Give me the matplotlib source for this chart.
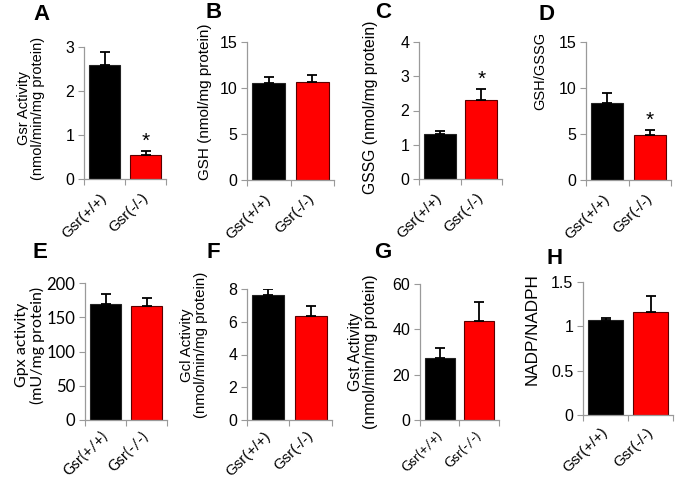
import matplotlib
matplotlib.use("Agg")
import matplotlib.pyplot as plt
import numpy as np

groups = ["Gsr(+/+)", "Gsr(-/-)"]

gsr_activity = [2.58, 0.54]
gsr_activity_err = [0.30, 0.09]
gsh = [10.5, 10.6]
gsh_err = [0.7, 0.8]
gssg = [1.31, 2.31]
gssg_err = [0.10, 0.31]
gsh_gssg = [8.4, 4.93]
gsh_gssg_err = [1.06, 0.47]
gpx = [169, 167]
gpx_err = [15, 11]
gcl = [7.61, 6.34]
gcl_err = [0.37, 0.61]
gst = [27.3, 43.7]
gst_err = [4.6, 8.2]
nadp_ratio = [1.077, 1.167]
nadp_ratio_err = [0.015, 0.18]

panel_letters = ["A", "B", "C", "D", "E", "F", "G", "H"]
ylabels = ["Gsr Activity\n(nmol/min/mg protein)", "GSH (nmol/mg protein)",
           "GSSG (nmol/mg protein)", "GSH/GSSG",
           "Gpx activity\n(mU/mg protein)", "Gcl Activity\n(nmol/min/mg protein)",
           "Gst Activity\n(nmol/min/mg protein)", "NADP/NADPH"]
yticks = [[0, 1, 2, 3], [0, 5, 10, 15], [0, 1, 2, 3, 4], [0, 5, 10, 15],
          [0, 50, 100, 150, 200], [0, 2, 4, 6, 8], [0, 20, 40, 60], [0, 0.5, 1, 1.5]]
yticklabels = [["0", "1", "2", "3"], ["0", "5", "10", "15"], ["0", "1", "2", "3", "4"],
               ["0", "5", "10", "15"], ["0", "50", "100", "150", "200"],
               ["0", "2", "4", "6", "8"], ["0", "20", "40", "60"], ["0", "0.5", "1", "1.5"]]
significant = [True, False, True, True, False, False, False, False]

values = [gsr_activity, gsh, gssg, gsh_gssg, gpx, gcl, gst, nadp_ratio]
errors = [gsr_activity_err, gsh_err, gssg_err, gsh_gssg_err, gpx_err, gcl_err, gst_err, nadp_ratio_err]

W, H = 676, 482
plt.rcParams['font.family'] = ['Liberation Sans', 'DejaVu Sans']
fig = plt.figure(figsize=(W / 100, H / 100), dpi=100)

ARIAL = ['Liberation Sans', 'DejaVu Sans']
CALIB = ['Lato', 'DejaVu Sans']

# layout (pixel boxes: left, right, top, bottom)
boxes = [(84, 166, 47, 179), (247, 334, 42, 180), (419, 502, 42, 179), (586, 671, 42, 180),
         (85, 167, 283, 420), (247, 332, 289, 420), (420, 499, 284, 420), (583, 673, 282, 415)]
letter_pos = [(41, 14), (214, 13), (383, 13), (546, 14), (40, 253), (213, 253), (383, 253), (555, 259)]
ylabel_pos = [(31, 108), (205, 102), (370, 107), (540, 71), (30, 345), (194, 345), (363, 352), (532, 329)]
ylabel_size = [10.5, 11, 11.3, 10.5, 11.5, 10.8, 11.4, 12.3]
ylabel_fam = [ARIAL, ARIAL, ARIAL, ARIAL, CALIB, ARIAL, ARIAL, ARIAL]
tick_size = [11.5, 11.5, 11.5, 11.5, 12, 11.5, 11.5, 11.5]
tick_fam = [ARIAL, ARIAL, ARIAL, ARIAL, CALIB, ARIAL, ARIAL, ARIAL]
xt_size = [11, 11, 11, 11, 11, 11, 10, 11]
xt_fam = [ARIAL, ARIAL, ARIAL, ARIAL, CALIB, ARIAL, CALIB, ARIAL]
xt_pad = [12, 12, 12, 12, 10, 10, 10, 11]

spine_c = '#9a9a9a'
colors = ['black', '#ff0000']
edges = ['#222222', '#5a0000']

for i in range(8):
    l, r, t, b = boxes[i]
    ax = fig.add_axes([l / W, 1 - b / H, (r - l) / W, (b - t) / H])
    x = np.arange(len(groups))
    ax.bar(x, values[i], width=0.76, color=colors, edgecolor=edges, linewidth=0.8, zorder=2)
    ax.errorbar(x, values[i], yerr=[[0, 0], errors[i]], fmt='none', ecolor='black',
                elinewidth=1.3, capsize=3.5, capthick=1.3, zorder=3)
    ax.set_xlim(-0.5, 1.5)
    ax.set_ylim(yticks[i][0], yticks[i][-1])
    ax.set_yticks(yticks[i])
    ax.set_yticklabels(yticklabels[i], fontsize=tick_size[i], family=tick_fam[i])
    ax.set_xticks(x)
    ax.set_xticklabels(groups, rotation=45, ha='right', va='center', rotation_mode='anchor',
                       fontsize=xt_size[i], family=xt_fam[i])
    ax.set_xticks([-0.5, 0.5, 1.5], minor=True)
    ax.tick_params(axis='x', which='major', length=0, pad=xt_pad[i])
    ax.tick_params(axis='x', which='minor', length=4, color=spine_c, width=0.8, direction='out')
    ax.tick_params(axis='y', length=4, color=spine_c, width=0.8, direction='out', pad=3)
    for s in ['top', 'right']:
        ax.spines[s].set_visible(False)
    for s in ['left', 'bottom']:
        ax.spines[s].set_color(spine_c)
        ax.spines[s].set_linewidth(0.9)
    ax.spines['left'].set_zorder(1)
    if significant[i]:
        ax.annotate('*', xy=(1, values[i][1] + errors[i][1]), xytext=(0, 0),
                    textcoords='offset points', ha='center', va='bottom', fontsize=15)
    fig.text(ylabel_pos[i][0] / W, 1 - ylabel_pos[i][1] / H, ylabels[i], rotation=90,
             ha='center', va='center', multialignment='center', fontsize=ylabel_size[i],
             family=ylabel_fam[i], linespacing=1.05)
    fig.text(letter_pos[i][0] / W, 1 - letter_pos[i][1] / H, panel_letters[i],
             ha='center', va='center', fontsize=16, fontweight='bold', family=ARIAL)

fig.savefig('out.png', dpi=100)
